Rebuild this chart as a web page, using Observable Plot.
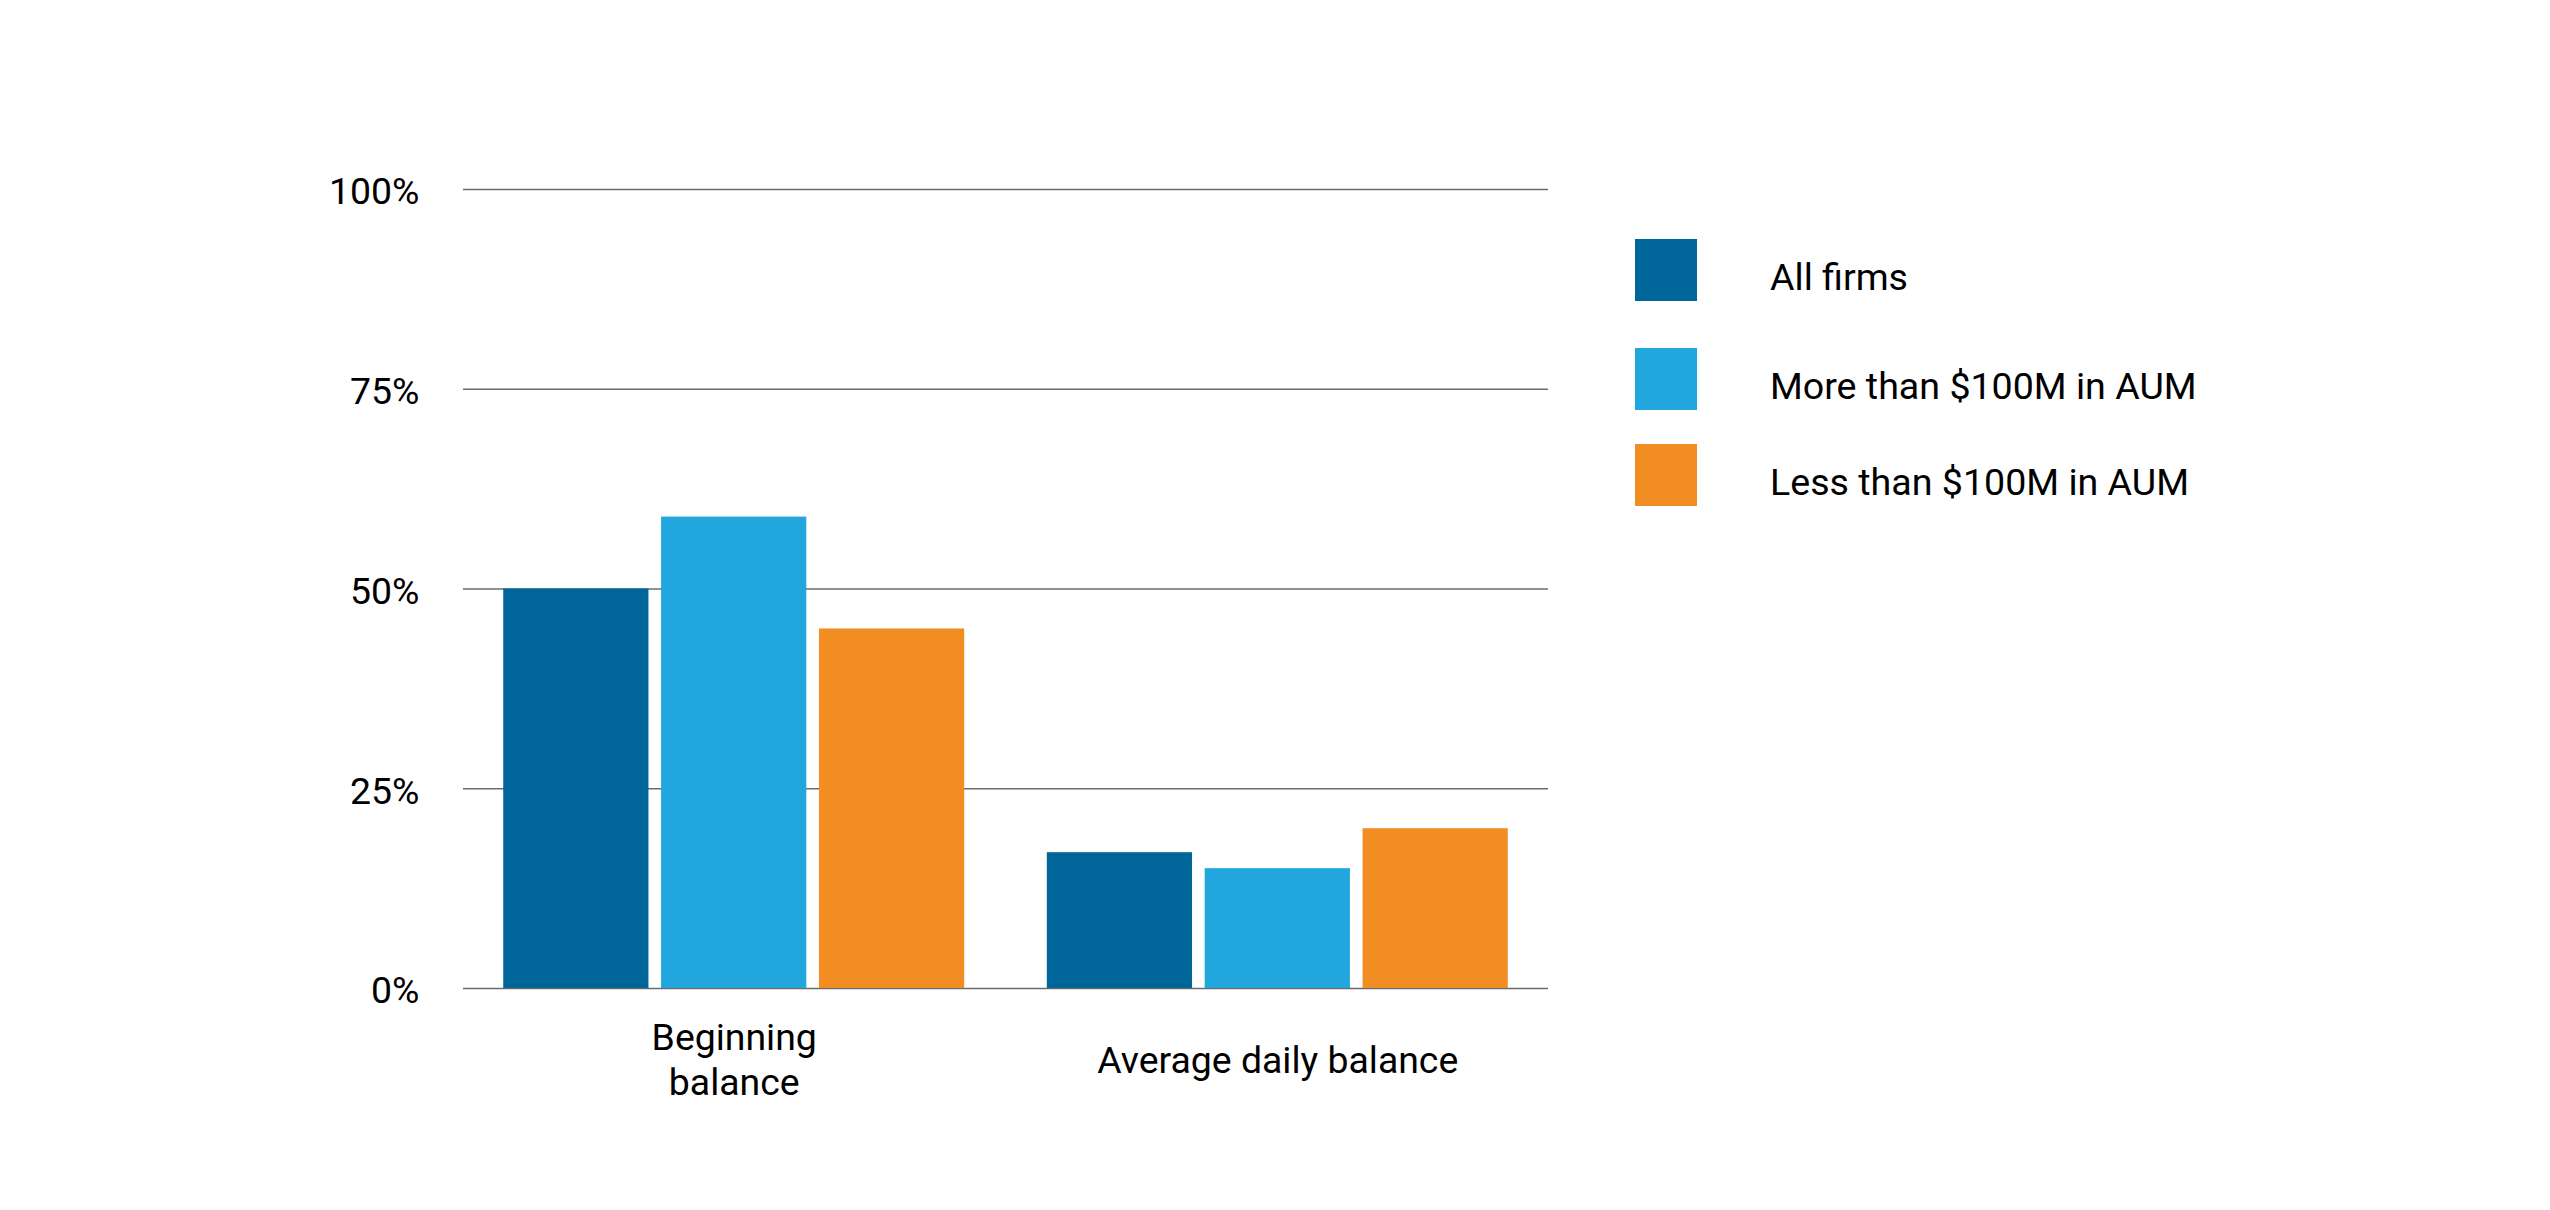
<!DOCTYPE html>
<html><head><meta charset="utf-8">
<script src="https://cdn.jsdelivr.net/npm/d3@7"></script>
<script src="https://cdn.jsdelivr.net/npm/@observablehq/plot@0.6"></script>
<style>
body{margin:0;background:#fff;font-family:Roboto,sans-serif;}
#wrap{position:relative;width:2550px;height:1210px;overflow:hidden;}
#wrap svg{position:absolute;left:0;top:0;}
.sw{position:absolute;width:62px;height:62px;}
.lt{position:absolute;height:62px;line-height:62px;font-size:37.6px;color:#000;white-space:nowrap;}
</style></head><body><div id="wrap"></div>
<script>
const categories = ["Beginning balance", "Average daily balance"];
const categoryLabels = ["Beginning\nbalance", "Average daily balance"];
const series = ["All firms", "More than $100M in AUM", "Less than $100M in AUM"];
const beginningValues = [50, 59, 45];
const averageDailyValues = [17, 15, 20];
const yTicks = [0, 25, 50, 75, 100];
const colors = ["#006699", "#21a6de", "#f28d23"];

const valuesByCategory = [beginningValues, averageDailyValues];
const data = categories.flatMap((c, i) => series.map((s, j) => ({category: c, series: s, value: valuesByCategory[i][j]})));

const common = {
  width: 2550, height: 1210,
  marginTop: 189, marginBottom: 222, marginLeft: 463, marginRight: 1002,
  style: {fontFamily: "Roboto, sans-serif", fontSize: "37px", color: "#000", background: "transparent"}
};

const back = Plot.plot({
  ...common,
  y: {domain: [0, 100], label: null},
  marks: [
    Plot.ruleY(yTicks, {stroke: "#6b6b6b", strokeWidth: 1.5}),
    Plot.axisY(yTicks, {tickFormat: d => d + "%", tickSize: 0, tickPadding: 44, fontSize: 37.4, dy: 3, fill: "#000", label: null})
  ]
});

const front = Plot.plot({
  ...common,
  fx: {domain: categories, paddingInner: 0.152, paddingOuter: 0.074, round: false, label: null},
  x: {domain: series, paddingInner: 0.08, paddingOuter: 0, round: false, axis: null},
  y: {domain: [0, 100], axis: null},
  color: {domain: series, range: colors},
  marks: [
    Plot.barY(data, {fx: "category", x: "series", y: "value", fill: "series"}),
    Plot.axisFx({anchor: "bottom", tickFormat: c => categoryLabels[categories.indexOf(c)], tickSize: 0, tickPadding: 70, lineAnchor: "middle", lineHeight: 1.2, fontSize: 37.4, fill: "#000", label: null})
  ]
});

const wrap = document.getElementById("wrap");
wrap.appendChild(back);
wrap.appendChild(front);

const legendTops = [239, 348, 444];
series.forEach((s, i) => {
  const sw = document.createElement("div");
  sw.className = "sw";
  sw.style.left = "1635px";
  sw.style.top = legendTops[i] + "px";
  sw.style.background = colors[i];
  wrap.appendChild(sw);
  const t = document.createElement("div");
  t.className = "lt";
  t.style.left = "1770px";
  t.style.top = (legendTops[i] + 7) + "px";
  t.textContent = s;
  wrap.appendChild(t);
});
</script></body></html>
